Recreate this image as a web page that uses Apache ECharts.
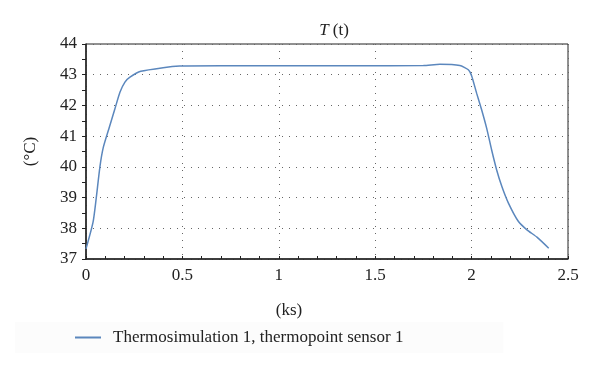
<!DOCTYPE html>
<html>
<head>
<meta charset="utf-8">
<script src="https://cdn.jsdelivr.net/npm/echarts@6/dist/echarts.min.js"></script>
<style>
  html, body { margin: 0; padding: 0; background: #fff; }
  #chart { width: 600px; height: 377px; }
</style>
</head>
<body>
<div id="chart"></div>
<script>
// time in ks
const timeKs = [0, 0.038, 0.072, 0.09, 0.121, 0.15, 0.176, 0.202, 0.228, 0.284, 0.4, 0.486, 0.7, 1.0, 1.4, 1.75, 1.836, 1.939, 1.983, 2.0, 2.026, 2.052, 2.078, 2.104, 2.13, 2.157, 2.191, 2.243, 2.287, 2.339, 2.4]
// temperature in °C
const tempC = [37.33, 38.25, 39.99, 40.64, 41.29, 41.89, 42.43, 42.76, 42.92, 43.11, 43.23, 43.28, 43.29, 43.29, 43.29, 43.3, 43.34, 43.3, 43.16, 42.97, 42.4, 41.86, 41.26, 40.55, 39.9, 39.36, 38.82, 38.22, 37.95, 37.71, 37.35]
const seriesName = 'Thermosimulation 1, thermopoint sensor 1'

const chart = echarts.init(document.getElementById('chart'))
const font = 'Liberation Serif, DejaVu Serif, serif'

const option = {
  animation: false,
  backgroundColor: '#fff',
  textStyle: { fontFamily: font },
  title: [
    {
      text: '{i|T} (t)',
      left: 329,
      textAlign: 'center',
      top: 17,
      textStyle: {
        fontFamily: font, fontSize: 17, fontWeight: 'normal', color: '#222',
        rich: { i: { fontFamily: font, fontSize: 17, fontStyle: 'italic', color: '#222' } }
      }
    },
    {
      text: '(ks)',
      left: 284,
      textAlign: 'center',
      top: 297,
      textStyle: { fontFamily: font, fontSize: 17, fontWeight: 'normal', color: '#222' }
    }
  ],
  legend: {
    data: [seriesName],
    left: 15,
    top: 322,
    padding: [7, 100, 7, 60],
    backgroundColor: '#fcfcfc',
    itemWidth: 26,
    itemHeight: 2,
    icon: 'rect',
    textStyle: { fontFamily: font, fontSize: 17, color: '#222', padding: [0, 0, 0, 7] }
  },
  grid: {
    left: 86, right: 32, top: 44, bottom: 118,
    show: true, borderColor: '#222', borderWidth: 1
  },
  xAxis: {
    type: 'value',
    min: 0, max: 2.5, interval: 0.5,
    axisLine: { lineStyle: { color: '#222', width: 1.5 } },
    axisTick: { inside: true, length: 3, lineStyle: { color: '#222' } },
    minorTick: { show: true, splitNumber: 5, length: 3, lineStyle: { color: '#222' } },
    axisLabel: { color: '#222', fontSize: 17, fontFamily: font, margin: 8 },
    splitLine: { show: true, lineStyle: { color: '#666', type: [1, 6] } }
  },
  yAxis: {
    type: 'value',
    min: 37, max: 44, interval: 1,
    name: '(°C)',
    nameLocation: 'middle',
    nameGap: 47,
    nameTextStyle: { fontFamily: font, fontSize: 17, color: '#222' },
    axisLine: { show: true, lineStyle: { color: '#222', width: 1.5 } },
    axisTick: { show: true, length: 4, lineStyle: { color: '#222' } },
    minorTick: { show: true, splitNumber: 2, length: 4, lineStyle: { color: '#222' } },
    axisLabel: { color: '#222', fontSize: 17, fontFamily: font, margin: 9 },
    splitLine: { show: true, lineStyle: { color: '#666', type: [1, 6] } }
  },
  series: [
    {
      name: seriesName,
      type: 'line',
      data: timeKs.map((t, i) => [t, tempC[i]]),
      smooth: 0.2,
      showSymbol: false,
      lineStyle: { color: '#5b87bd', width: 1.5 },
      itemStyle: { color: '#5b87bd' }
    }
  ]
}

chart.setOption(option)
</script>
</body>
</html>
